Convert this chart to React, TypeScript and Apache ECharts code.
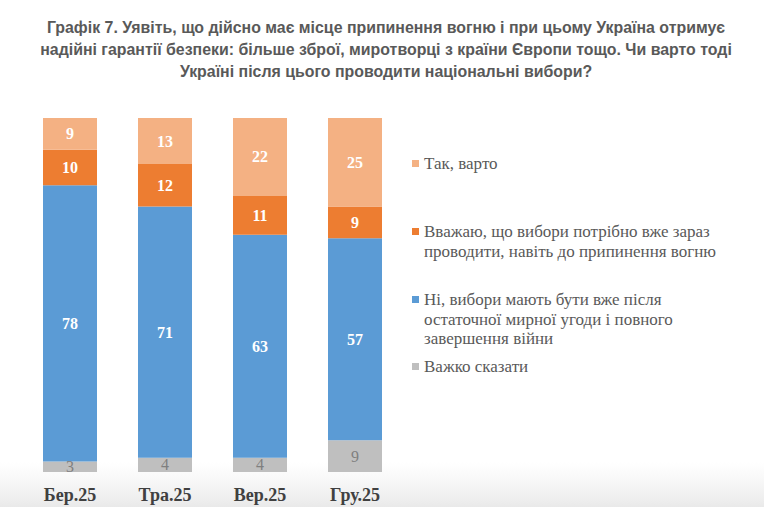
import React, { useEffect, useRef } from "react";
import * as echarts from "echarts";

const categories = ["Бер.25", "Тра.25", "Вер.25", "Гру.25"];
const hardToSay = [3, 4, 4, 9];
const noAfterPeace = [78, 71, 63, 57];
const nowEvenBefore = [10, 12, 11, 9];
const yesWorth = [9, 13, 22, 25];

const seriesNames = [
  "Важко сказати",
  "Ні, вибори мають бути вже після\nостаточної мирної угоди і повного\nзавершення війни",
  "Вважаю, що вибори потрібно вже зараз\nпроводити, навіть до припинення вогню",
  "Так, варто",
];
const seriesColors = ["#BFBFBF", "#5B9BD5", "#ED7D31", "#F4B183"];
const seriesData = [hardToSay, noAfterPeace, nowEvenBefore, yesWorth];

const titleText =
  "Графік 7. Уявіть, що дійсно має місце припинення вогню і при цьому Україна отримує\nнадійні гарантії безпеки: більше зброї, миротворці з країни Європи тощо. Чи варто тоді\nУкраїні після цього проводити національні вибори?";

// legend order top-to-bottom and first-line y of each item
const legendOrder = [3, 2, 1, 0];
const legendTops = [164, 232, 300, 367];

export default function App() {
  const ref = useRef<HTMLDivElement>(null);
  useEffect(() => {
    if (!ref.current) return;
    const chart = echarts.init(ref.current, null, { renderer: "svg" });
    const serif = "Liberation Serif";
    const graphics: any[] = [
      {
        type: "rect",
        shape: { x: 0, y: 462, width: 764, height: 45 },
        silent: true,
        z: -10,
        style: {
          fill: new echarts.graphic.LinearGradient(0, 0, 0, 1, [
            { offset: 0, color: "rgba(235,235,235,0)" },
            { offset: 1, color: "rgba(228,228,228,0.8)" },
          ]),
        },
      },
    ];
    legendOrder.forEach((si, i) => {
      const y = legendTops[i];
      graphics.push({
        type: "rect",
        shape: { x: 412, y: y - 4, width: 7, height: 7 },
        style: { fill: seriesColors[si] },
      });
      graphics.push({
        type: "text",
        x: 424,
        y: y - 10,
        style: {
          text: seriesNames[si],
          fill: "#595959",
          fontFamily: serif,
          fontSize: 17,
          lineHeight: 19.5,
          verticalAlign: "top",
        },
      });
    });
    chart.setOption({
      animation: false,
      backgroundColor: "#ffffff",
      title: {
        text: titleText,
        left: 381,
        top: 11,
        textAlign: "center",
        textStyle: {
          fontFamily: "Liberation Sans",
          fontWeight: "bold",
          fontSize: 15.9,
          lineHeight: 22,
          color: "#595959",
        },
      },
      grid: { left: 22.5, top: 118, width: 380, height: 354, containLabel: false },
      xAxis: {
        type: "category",
        data: categories,
        axisLine: { show: false },
        axisTick: { show: false },
        axisLabel: {
          margin: 14,
          fontFamily: serif,
          fontWeight: "bold",
          fontSize: 18,
          color: "#404040",
        },
      },
      yAxis: {
        type: "value",
        min: 0,
        max: 100,
        show: false,
        splitLine: { show: false },
      },
      graphic: graphics,
      series: seriesData.map((d, si) => ({
        type: "bar",
        name: seriesNames[si],
        stack: "total",
        barWidth: 54,
        data: d,
        itemStyle: { color: seriesColors[si] },
        label: {
          show: true,
          position: "inside",
          fontFamily: serif,
          fontSize: 16,
          fontWeight: si === 0 ? "normal" : "bold",
          color: si === 0 ? "#7F7F7F" : "#ffffff",
        },
      })),
    });
    return () => chart.dispose();
  }, []);
  return (
    <div
      ref={ref}
      style={{ position: "fixed", left: 0, top: 0, width: 764, height: 507 }}
    />
  );
}
